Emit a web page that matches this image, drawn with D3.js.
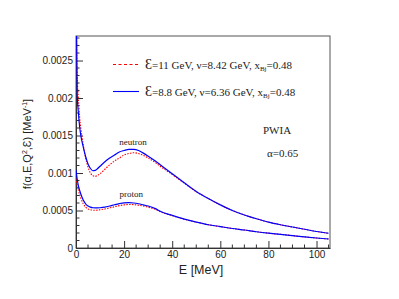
<!DOCTYPE html>
<html><head><meta charset="utf-8">
<script src="https://cdn.jsdelivr.net/npm/d3@7"></script>
<style>body{margin:0;background:#fff}svg{display:block}</style>
</head><body>
<svg id="c" width="399" height="299"></svg>
<script>
// ---- data (values in units of 1e-3 MeV^-1) ----
const energy = [0,0.5,1,1.5,2,3,4,5,6,7,8,9,10,12,14,16,18,20,22,24,26,28,30,33,35,40,45,50,55,60,65,70,75,80,85,90,95,100,105];
const neutron88 = [3.6,2.05,1.8,1.62,1.5,1.35,1.22,1.12,1.06,1.03,1.035,1.06,1.09,1.15,1.2,1.24,1.28,1.3,1.315,1.315,1.3,1.265,1.225,1.16,1.11,0.99,0.87,0.755,0.66,0.575,0.50,0.44,0.39,0.345,0.31,0.28,0.25,0.22,0.197];
const neutron11 = [3.4,2.3,2.0,1.75,1.6,1.38,1.2,1.08,1.0,0.965,0.955,0.97,0.99,1.05,1.11,1.16,1.2,1.24,1.26,1.27,1.26,1.235,1.2,1.14,1.09,0.98,0.865,0.75,0.66,0.575,0.50,0.44,0.39,0.345,0.31,0.28,0.25,0.22,0.197];
const proton88 = [1.04,0.92,0.83,0.77,0.72,0.64,0.59,0.56,0.545,0.537,0.535,0.535,0.537,0.545,0.56,0.577,0.592,0.602,0.604,0.6,0.59,0.575,0.56,0.525,0.49,0.435,0.385,0.345,0.31,0.285,0.26,0.24,0.217,0.198,0.182,0.165,0.148,0.133,0.12];
const proton11 = [0.93,0.84,0.77,0.71,0.665,0.59,0.545,0.52,0.51,0.505,0.503,0.505,0.51,0.52,0.535,0.55,0.565,0.575,0.58,0.578,0.57,0.56,0.545,0.515,0.485,0.432,0.384,0.345,0.31,0.285,0.26,0.24,0.217,0.198,0.182,0.165,0.148,0.133,0.12];
const xTicks = [0,20,40,60,80,100];
const yTicks = [0,0.0005,0.001,0.0015,0.002,0.0025];
const yTickLabels = ["0","0.0005","0.001","0.0015","0.002","0.0025"];
const legendLabels = [
  {eps:"11", nu:"8.42", x:"0.48", color:"#ff0000", dash:"3,2.5"},
  {eps:"8.8", nu:"6.36", x:"0.48", color:"#0000ff", dash:null}
];

const svg = d3.select("#c");
const L=76, R=330, T=36, B=248;
const x = d3.scaleLinear().domain([0,105.6]).range([L,R]);
const y = d3.scaleLinear().domain([0,0.002827]).range([B,T]);

svg.append("defs").append("clipPath").attr("id","clip")
  .append("rect").attr("x",L).attr("y",T).attr("width",R-L).attr("height",B-T);

// frame
svg.append("rect").attr("x",L).attr("y",T).attr("width",R-L).attr("height",B-T)
  .attr("fill","none").attr("stroke","#555").attr("stroke-width",1);

// x axis
const gx = svg.append("g").attr("transform",`translate(0,${B})`)
  .call(d3.axisBottom(x).tickValues(xTicks).tickSizeInner(-7).tickSizeOuter(0).tickPadding(3));
gx.select(".domain").attr("stroke","#333");
gx.selectAll("line").attr("stroke","#333");
gx.selectAll("text").attr("font-family","Liberation Sans, Arial, sans-serif").attr("font-size",10).attr("fill","#222");
gx.selectAll(".minor").data(d3.range(5,106,5).filter(v=>v%20!==0)).enter().append("line")
  .attr("x1",d=>x(d)).attr("x2",d=>x(d)).attr("y1",0).attr("y2",-3.5).attr("stroke","#333");

// y axis
const gy = svg.append("g").attr("transform",`translate(${L},0)`)
  .call(d3.axisLeft(y).tickValues(yTicks).tickFormat((d,i)=>yTickLabels[i]).tickSizeInner(-7).tickSizeOuter(0).tickPadding(3));
gy.select(".domain").attr("stroke","#333");
gy.selectAll("line").attr("stroke","#333");
gy.selectAll("text").attr("font-family","Liberation Sans, Arial, sans-serif").attr("font-size",10).attr("fill","#222");
gy.selectAll(".minor").data(d3.range(1,29).map(i=>i*0.0001).filter(v=>Math.round(v*10000)%5!==0)).enter().append("line")
  .attr("y1",d=>y(d)).attr("y2",d=>y(d)).attr("x1",0).attr("x2",3.5).attr("stroke","#333");

// axis titles
svg.append("text").attr("x",x(52)).attr("y",B+26).attr("text-anchor","middle")
  .attr("font-family","Liberation Sans, Arial, sans-serif").attr("font-size",12.5).attr("fill","#222").text("E [MeV]");
const yt = svg.append("text").attr("transform",`translate(31,${(T+B)/2+2}) rotate(-90)`).attr("text-anchor","middle")
  .attr("font-family","Liberation Sans, Arial, sans-serif").attr("font-size",11).attr("fill","#222");
yt.append("tspan").text("f(α,E,Q");
yt.append("tspan").attr("font-size",7).attr("dy",-4).text("2");
yt.append("tspan").attr("dy",4).text(",Ɛ) [MeV");
yt.append("tspan").attr("font-size",7).attr("dy",-4).text("-1");
yt.append("tspan").attr("dy",4).text("]");

// curves
const line = d3.line().x((d,i)=>x(energy[i])).y(d=>y(d*1e-3)).curve(d3.curveMonotoneX);
const plot = svg.append("g").attr("clip-path","url(#clip)");
[neutron11,proton11].forEach(arr=>plot.append("path").attr("d",line(arr))
  .attr("fill","none").attr("stroke","#ff0000").attr("stroke-width",1.1).attr("stroke-dasharray","1.5,1.3"));
[neutron88,proton88].forEach(arr=>plot.append("path").attr("d",line(arr))
  .attr("fill","none").attr("stroke","#0000ff").attr("stroke-width",1.2));

// curve labels
const serif = "Liberation Serif, Times New Roman, serif";
svg.append("text").attr("x",x(23.7)).attr("y",y(0.00138)).attr("text-anchor","middle")
  .attr("font-family",serif).attr("font-size",9).attr("fill","#222").text("neutron");
svg.append("text").attr("x",x(23)).attr("y",y(0.000675)).attr("text-anchor","middle")
  .attr("font-family",serif).attr("font-size",9).attr("fill","#222").text("proton");

// legend
legendLabels.forEach((d,i)=>{
  const ly = 64.5 + i*27;
  svg.append("line").attr("x1",113).attr("x2",139).attr("y1",ly).attr("y2",ly)
    .attr("stroke",d.color).attr("stroke-width",1.1).attr("stroke-dasharray",d.dash);
  const t = svg.append("text").attr("x",145).attr("y",ly+4).attr("font-family",serif).attr("font-size",11).attr("fill","#222");
  t.append("tspan").attr("font-size",14).text("Ɛ");
  t.append("tspan").text(`=${d.eps} GeV, ν=${d.nu} GeV, x`);
  t.append("tspan").attr("font-size",7).attr("dy",2.5).text("Bj");
  t.append("tspan").attr("dy",-2.5).text(`=${d.x}`);
});

svg.append("text").attr("x",263).attr("y",134).attr("font-family",serif).attr("font-size",11).attr("fill","#222").text("PWIA");
svg.append("text").attr("x",267).attr("y",157).attr("font-family",serif).attr("font-size",11).attr("fill","#222").text("α=0.65");
</script>
</body></html>
